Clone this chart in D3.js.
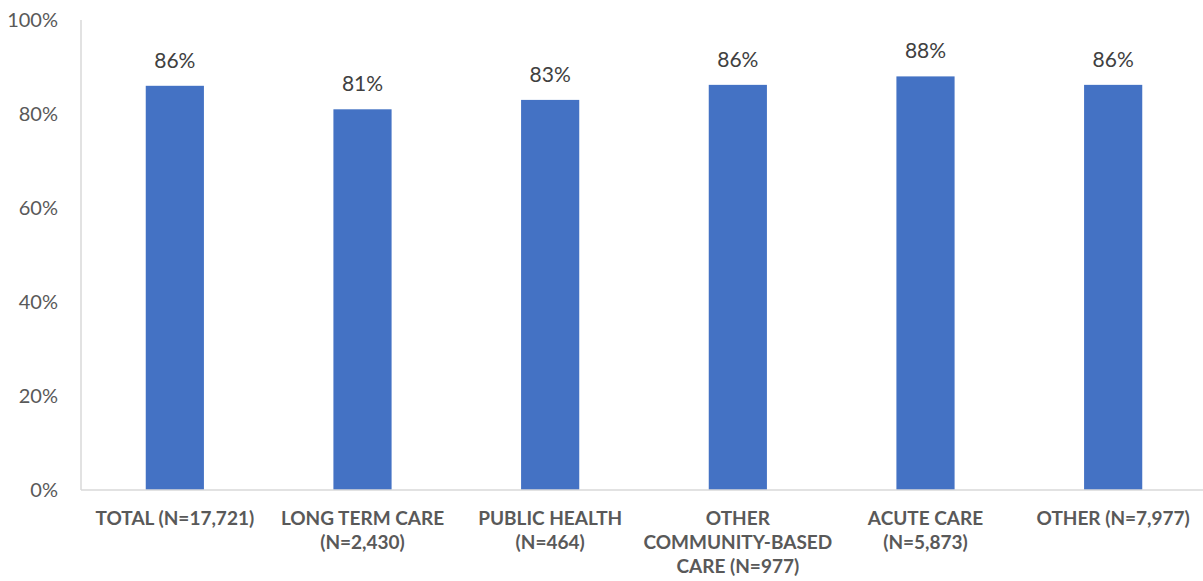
<!DOCTYPE html>
<html>
<head>
<meta charset="utf-8">
<script src="https://cdn.jsdelivr.net/npm/d3@7"></script>
<style>
  body { margin: 0; background: #fff; }
  svg { display: block; font-family: Lato, "Open Sans", sans-serif; }
</style>
</head>
<body>
<script>
// chart data
const categories = [
  ["TOTAL (N=17,721)"],
  ["LONG TERM CARE", "(N=2,430)"],
  ["PUBLIC HEALTH", "(N=464)"],
  ["OTHER", "COMMUNITY-BASED", "CARE (N=977)"],
  ["ACUTE CARE", "(N=5,873)"],
  ["OTHER (N=7,977)"]
];
const values = [86.0, 81.0, 83.0, 86.2, 88.0, 86.2];
const valueLabels = ["86%", "81%", "83%", "86%", "88%", "86%"];
const yTicks = [0, 20, 40, 60, 80, 100];

const width = 1203, height = 581;
const svg = d3.select("body").append("svg")
  .attr("width", width)
  .attr("height", height);

const x = d3.scaleBand()
  .domain(d3.range(categories.length))
  .range([81, 1207])
  .paddingInner(0.69)
  .paddingOuter(0.345);

const y = d3.scaleLinear()
  .domain([0, 100])
  .range([490, 20]);

// y tick labels
svg.append("g").selectAll("text")
  .data(yTicks)
  .enter().append("text")
  .attr("x", 58)
  .attr("y", d => y(d) + 7)
  .attr("text-anchor", "end")
  .attr("fill", "#595959")
  .style("font-size", "20px")
  .text(d => d + "%");

// bars
svg.append("g").selectAll("rect")
  .data(values)
  .enter().append("rect")
  .attr("x", (d, i) => x(i))
  .attr("y", d => y(d))
  .attr("width", x.bandwidth())
  .attr("height", d => y(0) - y(d))
  .attr("fill", "#4472c4");

// axis lines
svg.append("line")
  .attr("x1", 81).attr("x2", 81)
  .attr("y1", y(100)).attr("y2", y(0))
  .attr("stroke", "#d9d9d9").attr("stroke-width", 1.5);
svg.append("line")
  .attr("x1", 81).attr("x2", width)
  .attr("y1", y(0)).attr("y2", y(0))
  .attr("stroke", "#d9d9d9").attr("stroke-width", 1.5);

// value labels
svg.append("g").selectAll("text")
  .data(values)
  .enter().append("text")
  .attr("x", (d, i) => x(i) + x.bandwidth() / 2)
  .attr("y", d => y(d) - 18)
  .attr("text-anchor", "middle")
  .attr("fill", "#404040")
  .style("font-size", "21px")
  .text((d, i) => valueLabels[i]);

// category labels
const cat = svg.append("g").selectAll("text")
  .data(categories)
  .enter().append("text")
  .attr("text-anchor", "middle")
  .attr("fill", "#595959")
  .style("font-size", "19px")
  .style("font-weight", "bold");

cat.selectAll("tspan")
  .data((d, i) => d.map(line => ({ line, i })))
  .enter().append("tspan")
  .attr("x", d => x(d.i) + x.bandwidth() / 2)
  .attr("y", (d, j) => 525 + j * 24)
  .text(d => d.line);
</script>
</body>
</html>
